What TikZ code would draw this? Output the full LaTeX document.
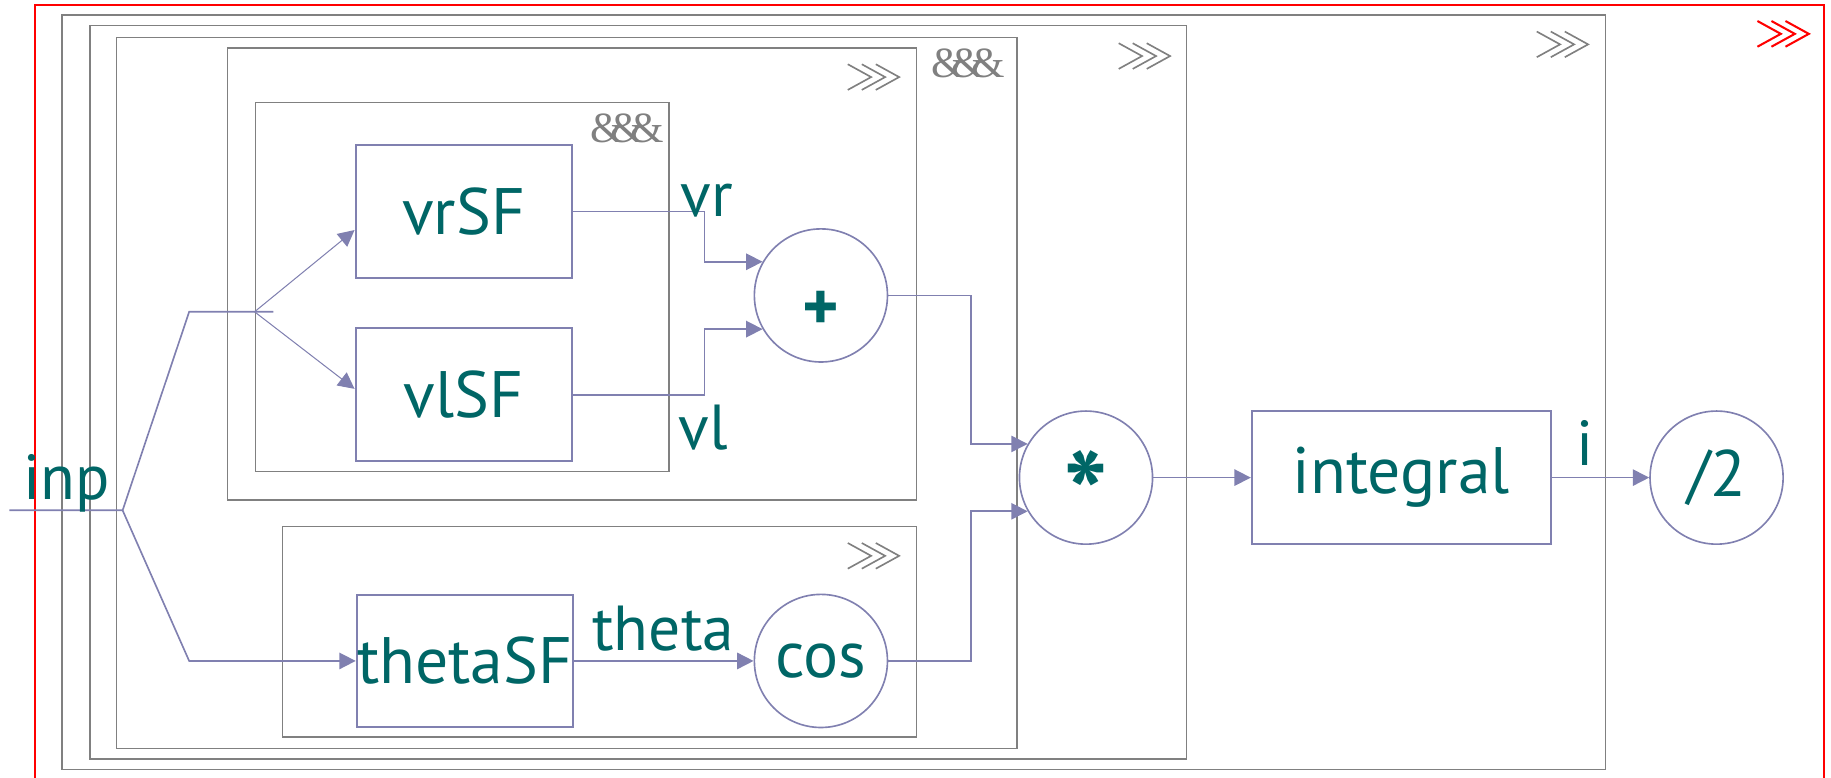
\documentclass[tikz,border=0pt]{standalone}
\usepackage{fontspec}
\newfontfamily\blockfont{PT Sans}
\newfontfamily\ampfont{Liberation Serif}
\usetikzlibrary{arrows.meta, calc, positioning}

\definecolor{wirecol}{RGB}{128,128,176}
\definecolor{inkcol}{RGB}{0,102,102}
\definecolor{framecol}{RGB}{128,128,128}

\tikzset{
  block/.style={draw=wirecol, line width=1pt, minimum width=3.7cm, minimum height=2.27cm,
    inner sep=0pt, text=inkcol, font=\blockfont\fontsize{32}{36}\selectfont},
  op/.style={circle, draw=wirecol, line width=0.8pt, minimum size=2.28cm, inner sep=0pt,
    text=inkcol, font=\blockfont\fontsize{32}{36}\selectfont},
  sig/.style={anchor=base, text=inkcol, font=\blockfont\fontsize{31}{36}\selectfont},
  line/.style={draw=wirecol, line width=0.8pt},
  conn/.style={line, -{Triangle[length=0.28cm, width=0.28cm]}},
  group/.style={draw=framecol, line width=0.7pt},
  amps/.style={text=framecol, font=\ampfont\fontsize{21}{21}\selectfont},
  chevrons/.pic={
    \foreach \tip in {-2,10,22}
      \draw (\tip-20,-11) -- (\tip,0) -- (\tip-20,11);
  }
}

\newcommand{\ampsign}{\&\kern-.32em\&\kern-.32em\&}
\newcommand{\opsign}[2]{{\bfseries\fontsize{#1}{#1}\selectfont\smash{\raisebox{-0.5em}{#2}}}}

\begin{document}
\begin{tikzpicture}[x=0.02cm, y=-0.02cm]
    \clip (0,0) rectangle (1568,666);

    % nested group frames
    \draw[red, line width=0.9pt] (30,4) rectangle (1562,700);
    \draw[group] (53,13) rectangle (1375,659);
    \draw[group] (77,22) rectangle (1016,650);
    \draw[group] (100,32) rectangle (871,641);
    \draw[group] (195,41) rectangle (785,428);
    \draw[group] (219,88) rectangle (573,404);
    \draw[group] (242,451) rectangle (785,631);

    % frame markers
    \pic[red, line width=1pt] at (1527,29) {chevrons};
    \pic[framecol, line width=0.8pt] at (1338,38) {chevrons};
    \pic[framecol, line width=0.8pt] at (980,48) {chevrons};
    \pic[framecol, line width=0.8pt] at (748,66) {chevrons};
    \pic[framecol, line width=0.8pt] at (748,476) {chevrons};
    \node[amps] (ampouter) at (829,54) {\ampsign};
    \node[amps] (ampinner) at (537,110) {\ampsign};

    % blocks
    \node[block] (vrSF) at (397,181) {vrSF};
    \node[block] (vlSF) at (397,338) {vlSF};
    \node[block] (thetaSF) at (398,566) {thetaSF};
    \node[op] (plus) at (703,253) {\opsign{34}{+}};
    \node[op] (cosn) at (703,566) {cos};
    \node[op] (mul) at (930,409) {\opsign{58}{*}};
    \node[block, minimum width=5.12cm] (integral) at (1200,409) {integral};
    \node[op] (half) at (1470,409) {/2};

    % input fan-out
    \coordinate (inp) at (8,437);
    \coordinate (fork) at (105,437);
    \coordinate (upper) at (162,267);
    \coordinate (split) at (218,267);
    \coordinate (stub) at (234,267);
    \coordinate (lower) at (162,566);
    \draw[line] (inp) -- (fork) -- (upper) -- (stub);
    \draw[conn] (fork) -- (lower) -- (thetaSF.west);
    \draw[conn, line width=0.5pt] (split) -- ($(vrSF.west)+(0,16)$);
    \draw[conn, line width=0.5pt] (split) -- ($(vlSF.west)+(0,-5)$);

    % signal connectors
    \draw[conn] (vrSF.east) -- ++(113,0) |- (plus.150);
    \draw[conn] (vlSF.east) -- ++(113,0) |- (plus.210);
    \draw[conn] (plus.east) -- ++(71,0) |- (mul.150);
    \draw[conn] (cosn.east) -- ++(71,0) |- (mul.210);
    \draw[conn] (thetaSF) -- (cosn);
    \draw[conn] (mul) -- (integral);
    \draw[conn] (integral) -- (half);

    % signal names
    \node[sig] (inplabel) at (57,428) {inp};
    \node[sig] (vrlabel) at (605,185) {vr};
    \node[sig] (vllabel) at (602,385) {vl};
    \node[sig] (thetalabel) at (568,557) {theta};
    \node[sig] (ilabel) at (1357,399) {i};
\end{tikzpicture}
\end{document}
